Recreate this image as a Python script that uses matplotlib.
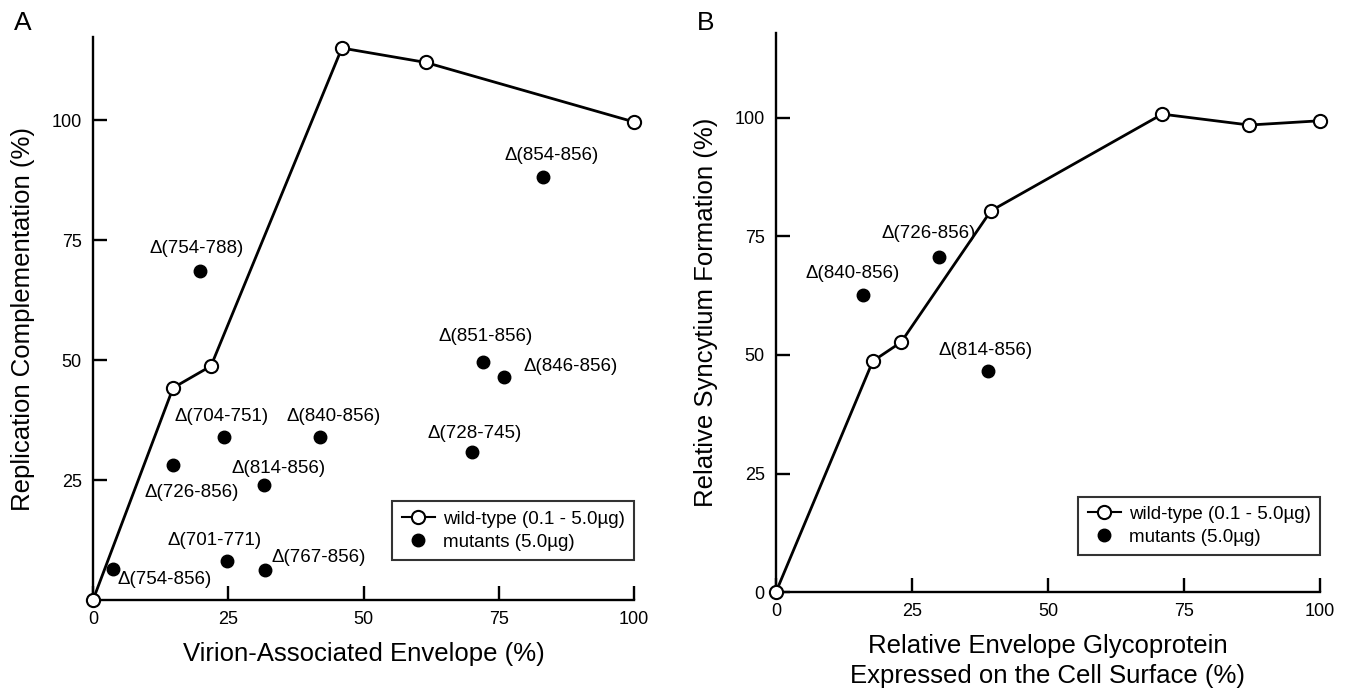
import matplotlib
matplotlib.use("Agg")
import matplotlib.pyplot as plt
from matplotlib.lines import Line2D

plt.rcParams['font.family'] = ['Liberation Sans', 'DejaVu Sans']

# Panel A data
wt_a_x = [0, 14.8, 21.8, 46, 61.5, 100]
wt_a_y = [0, 44.2, 48.75, 115, 112, 99.6]
mut_a_names = ['754-788', '704-751', '840-856', '726-856', '814-856', '701-771',
               '767-856', '754-856', '854-856', '851-856', '846-856', '728-745']
mut_a_x = [19.8, 24.2, 42.0, 14.8, 31.6, 24.8, 31.8, 3.7, 83.2, 72.1, 76.0, 70.0]
mut_a_y = [68.5, 34.0, 34.0, 28.1, 24.0, 8.1, 6.2, 6.4, 88.2, 49.6, 46.5, 30.8]
# label offsets in pixels (dx, dy) and horizontal alignment
mut_a_off = [(-4, 23, 'center'), (-2, 20, 'center'), (13, 20, 'center'), (19, -27, 'center'),
             (15, 16, 'center'), (-13, 21, 'center'), (6, 13, 'left'), (4, -10, 'left'),
             (8, 21, 'center'), (2, 25, 'center'), (19, 10, 'left'), (3, 19, 'center')]

# Panel B data
wt_b_x = [0, 17.8, 23.0, 39.5, 71.0, 87.0, 100]
wt_b_y = [0, 48.7, 52.7, 80.4, 100.8, 98.5, 99.4]
mut_b_names = ['840-856', '726-856', '814-856']
mut_b_x = [16.0, 30.0, 39.0]
mut_b_y = [62.7, 70.7, 46.6]
mut_b_off = [(-10, 21, 'center'), (-10, 23, 'center'), (-3, 21, 'center')]

fig = plt.figure(figsize=(13.46, 6.93), dpi=100)
axA = fig.add_axes([0.0691, 0.1342, 0.402, 0.8124])
axB = fig.add_axes([0.5765, 0.1457, 0.4042, 0.8066])

lw = 1.7
for ax in (axA, axB):
    ax.spines['top'].set_visible(False)
    ax.spines['right'].set_visible(False)
    ax.spines['left'].set_linewidth(lw)
    ax.spines['bottom'].set_linewidth(lw)
    ax.tick_params(direction='in', length=10, width=lw, labelsize=13, pad=8)
    ax.set_xlim(0, 100)
    ax.set_xticks([0, 25, 50, 75, 100])


def draw(ax, wx, wy, mx, my, names, offs):
    ax.plot(wx, wy, '-', color='black', lw=2, marker='o', ms=9.5, mfc='white',
            mec='black', mew=1.5, clip_on=False, zorder=3)
    ax.plot(mx, my, 'o', color='black', ms=9, clip_on=False, zorder=3)
    for n, x, y, (dx, dy, ha) in zip(names, mx, my, offs):
        ax.annotate('\u0394(' + n + ')', (x, y), xytext=(dx * 0.72, dy * 0.72),
                    textcoords='offset points', ha=ha, va='center', fontsize=13.5)


draw(axA, wt_a_x, wt_a_y, mut_a_x, mut_a_y, mut_a_names, mut_a_off)
draw(axB, wt_b_x, wt_b_y, mut_b_x, mut_b_y, mut_b_names, mut_b_off)

axA.set_ylim(0, 117.3)
axA.set_yticks([25, 50, 75, 100])
axB.set_ylim(0, 117.9)
axB.set_yticks([0, 25, 50, 75, 100])

axA.set_xlabel('Virion-Associated Envelope (%)', fontsize=18.5, labelpad=10)
axA.set_ylabel('Replication Complementation (%)', fontsize=18.5, labelpad=12)
axB.set_xlabel('Relative Envelope Glycoprotein\nExpressed on the Cell Surface (%)',
               fontsize=18.5, labelpad=10, linespacing=1.3)
axB.set_ylabel('Relative Syncytium Formation (%)', fontsize=18.5, labelpad=12)

handles = [Line2D([], [], color='black', lw=1.5, marker='o', ms=9.5, mfc='white', mec='black', mew=1.5),
           Line2D([], [], color='black', lw=0, marker='o', ms=9)]
labels = ['wild-type (0.1 - 5.0\u00b5g)', 'mutants (5.0\u00b5g)']
for ax, yb in ((axA, 0.071), (axB, 0.066)):
    leg = ax.legend(handles, labels, loc='lower right', bbox_to_anchor=(1.0, yb),
                    borderaxespad=0, fontsize=13.5, fancybox=False, handlelength=1.8,
                    handletextpad=0.4, labelspacing=0.3, borderpad=0.5)
    leg.get_frame().set_edgecolor('black')
    leg.get_frame().set_linewidth(1.5)

fig.text(0.010, 0.967, 'A', fontsize=19, va='center')
fig.text(0.518, 0.967, 'B', fontsize=19, va='center')

fig.savefig('out.png', dpi=100)
